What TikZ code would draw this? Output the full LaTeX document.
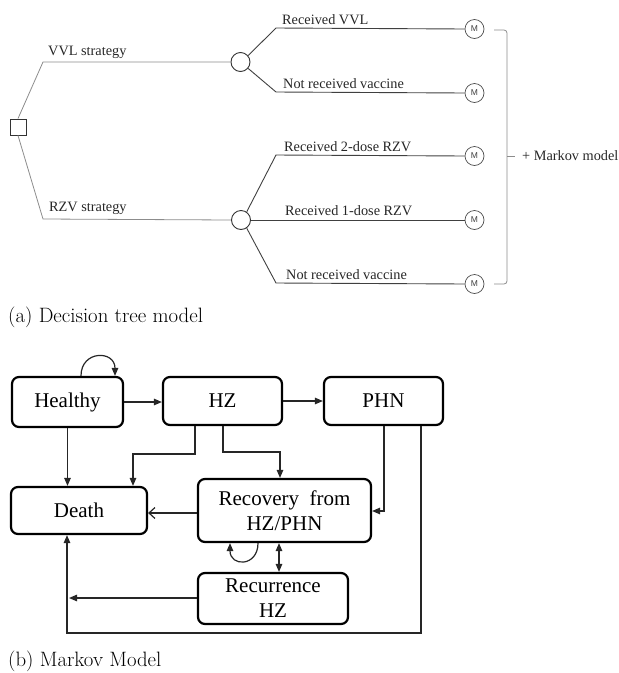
\documentclass[tikz,border=0pt]{standalone}
\usepackage{fontspec}
\setmainfont{Liberation Serif}
\newfontfamily\tnr{Liberation Serif}
\newfontfamily\capfont{Latin Modern Roman}
\newfontfamily\msans{Liberation Sans}
\usetikzlibrary{arrows.meta,calc}
\begin{document}
\begin{tikzpicture}[x=1pt,y=-1pt,
  treeline/.style={draw=black!45, line width=0.8pt},
  branchline/.style={draw=black!75, line width=0.9pt},
  tlabel/.style={anchor=base west, inner sep=0pt, font=\tnr\fontsize{14.3}{16}\selectfont, text=black!85},
  mnode/.style={circle, draw=black!70, line width=0.7pt, minimum size=19pt, inner sep=0pt, font=\msans\fontsize{8.5}{9}\selectfont, text=black!75},
  chance/.style={circle, draw=black!80, line width=0.9pt, minimum size=19pt, inner sep=0pt},
  state/.style={draw=black, line width=2.2pt, rounded corners=7pt, inner sep=0pt, align=center, font=\tnr\fontsize{21}{25}\selectfont},
  tip/.style={Triangle[length=8pt,width=6.5pt]},
  arr/.style={draw=black!85, line width=1.2pt, -{Triangle[length=8pt,width=6.5pt]}},
  caption/.style={anchor=base west, inner sep=0pt, font=\capfont\fontsize{20.8}{24}\selectfont}
]
\useasboundingbox (0,0) rectangle (619,673);

% ---------------- Decision tree ----------------
\node[draw=black!80, line width=0.9pt, minimum size=16pt, inner sep=0pt] (dec) at (18,127) {};
\node[chance] (c1) at (240.5,62) {};
\node[chance] (c2) at (241,220) {};
\node[mnode] (m1) at (474.5,29) {M};
\node[mnode] (m2) at (474.5,93) {M};
\node[mnode] (m3) at (474.5,156) {M};
\node[mnode] (m4) at (474.5,220) {M};
\node[mnode] (m5) at (474.5,284) {M};

\draw[treeline] (dec.north) -- (43,62) -- (c1.west);
\draw[treeline] (dec.south) -- (43,219) -- (c2.west);

\draw[branchline] (c1.40) -- (276,28) -- (m1.west);
\draw[branchline] (c1.-40) -- (276,92) -- (m2.west);
\draw[branchline] (c2.55) -- (276,155) -- (m3.west);
\draw[branchline] (c2.east) -- (m4.west);
\draw[branchline] (c2.-55) -- (276,283) -- (m5.west);

\node[tlabel] (l1) at (48,55) {VVL strategy};
\node[tlabel] (l2) at (49,211) {RZV strategy};
\node[tlabel] (l3) at (282,24) {Received VVL};
\node[tlabel] (l4) at (283,88) {Not received vaccine};
\node[tlabel] (l5) at (284,151) {Received 2-dose RZV};
\node[tlabel] (l6) at (285,215) {Received 1-dose RZV};
\node[tlabel] (l7) at (286,279) {Not received vaccine};

\draw[draw=black!45, line width=0.8pt, rounded corners=3pt] (494,30) -- (507,30) -- (507,284) -- (494,284);
\draw[draw=black!45, line width=0.8pt] (507,156) -- (515,156);
\node[tlabel] (mm) at (522,160) {+ Markov model};

\node[caption] (capa) at (8,322) {(a) Decision tree model};

% ---------------- Markov model ----------------
\node[state, minimum width=111pt, minimum height=50pt] (healthy) at (67.5,402) {Healthy};
\node[state, minimum width=119pt, minimum height=48pt] (hz) at (222.5,401) {HZ};
\node[state, minimum width=119pt, minimum height=48pt] (phn) at (383.5,401) {PHN};
\node[state, minimum width=136pt, minimum height=47pt] (death) at (79,510.5) {Death};
\node[state, minimum width=173pt, minimum height=63pt] (recov) at (284.5,510.5) {Recovery\ \ from\\HZ/PHN};
\node[state, minimum width=150pt, minimum height=51pt] (recur) at (273,598.5) {Recurrence\\HZ};
\coordinate (dl) at (69,598);

% self loops
\draw[arr] (81,0 |- healthy.north) .. controls (81,350) and (115,350) .. (115,0 |- healthy.north);
\draw[arr] (258,0 |- recov.south) .. controls (258,567) and (230,567) .. (230,0 |- recov.south);

% transitions
\draw[arr] (healthy.east) -- (healthy.east -| hz.west);
\draw[arr] (hz.east) -- (hz.east -| phn.west);
\draw[arr] (healthy.south) -- (healthy.south |- death.north);
\draw[arr] (195,0 |- hz.south) -- (195,454) -- (133,454) -- (133,0 |- death.north);
\draw[arr] (223,0 |- hz.south) -- (223,452) -- (280,452) -- (280,0 |- recov.north);
\draw[draw=black!85, line width=1.2pt, -{Straight Barb[length=6pt,width=11pt]}] (recov.west |- 0,513) -- (death.east |- 0,513);
\draw[arr] (384,0 |- phn.south) -- (384,511) -- (recov.east |- 0,511);
\draw[arr] (421,0 |- phn.south) -- (421,633) -- (67,633) -- (67,0 |- death.south);
\draw[draw=black!85, line width=1.2pt, {Triangle[length=8pt,width=6.5pt]}-{Triangle[length=8pt,width=6.5pt]}] (279,0 |- recov.south) -- (279,0 |- recur.north);
\draw[arr] (recur.west |- dl) -- (dl);

\node[caption] (capb) at (8,666) {(b) Markov Model};
\end{tikzpicture}
\end{document}
